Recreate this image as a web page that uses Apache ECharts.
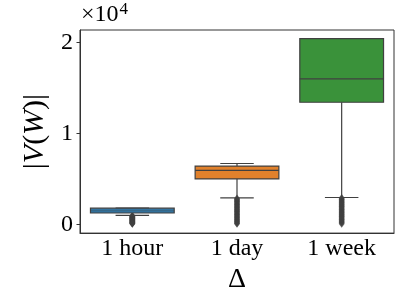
<!DOCTYPE html>
<html><head><meta charset="utf-8">
<script src="https://cdn.jsdelivr.net/npm/echarts@6/dist/echarts.min.js"></script>
<style>html,body{margin:0;padding:0;background:#fff}#c{width:399px;height:299px}</style>
</head><body><div id="c"></div>
<script>
const categories = ['1 hour', '1 day', '1 week'];
const whiskerLow = [1000, 2920, 2960];
const q1 = [1250, 5000, 13440];
const median = [1520, 5950, 16010];
const q3 = [1780, 6420, 20430];
const whiskerHigh = [1780, 6700, 20430];
const boxColors = ['#3274a1', '#e1812c', '#3a923a'];
const yTicks = [0, 10000, 20000];
const outliersHour = [950, 900, 860, 820, 780, 740, 700, 660, 620, 580, 540, 500, 460, 420, 380, 340, 300, 260, 220, 180, 140, 100, 60];
const outliersDay = [2850, 2750, 2650, 2550, 2450, 2350, 2250, 2150, 2050, 1950, 1850, 1750, 1650, 1550, 1450, 1350, 1250, 1150, 1050, 950, 850, 750, 650, 550, 450, 350, 250, 150, 60];
const outliersWeek = [2900, 2800, 2700, 2600, 2500, 2400, 2300, 2200, 2100, 2000, 1900, 1800, 1700, 1600, 1500, 1400, 1300, 1200, 1100, 1000, 900, 800, 700, 600, 500, 400, 300, 200, 60];

const FONT = 'Liberation Serif';
const LINE = '#404040';
const boxData = categories.map((c, i) => [i, whiskerLow[i], q1[i], median[i], q3[i], whiskerHigh[i]]);
const outlierData = [];
[outliersHour, outliersDay, outliersWeek].forEach((arr, i) => arr.forEach(v => outlierData.push([i, v])));

const chart = echarts.init(document.getElementById('c'), null, {renderer: 'canvas'});
chart.setOption({
  animation: false,
  grid: {left: 80, right: 5, top: 30, bottom: 60, show: true, borderColor: '#333', borderWidth: 1},
  xAxis: {
    type: 'category', data: categories, boundaryGap: true,
    name: 'Δ', nameLocation: 'middle', nameGap: 32,
    nameTextStyle: {fontFamily: FONT, fontSize: 28, color: '#000', verticalAlign: 'top'},
    axisLine: {onZero: false, lineStyle: {color: '#333', width: 1}},
    axisTick: {alignWithLabel: true, length: 3.5, lineStyle: {color: '#333'}},
    axisLabel: {fontFamily: FONT, fontSize: 24, color: '#000', margin: 4}
  },
  yAxis: {
    type: 'value', min: -960, max: 21390,
    name: '|{i|V}({i|W})|', nameLocation: 'middle', nameGap: 20, nameRotate: 90,
    nameTextStyle: {fontFamily: FONT, fontSize: 30, color: '#000',
      rich: {i: {fontFamily: FONT, fontSize: 30, fontStyle: 'italic', color: '#000'}}},
    splitLine: {show: false},
    axisLine: {show: true, lineStyle: {color: '#333', width: 1}},
    axisTick: {show: true, length: 3.5, customValues: yTicks, lineStyle: {color: '#333'}},
    axisLabel: {fontFamily: FONT, fontSize: 24, color: '#000', margin: 7, customValues: yTicks,
      formatter: v => String(Math.round(v / 10000))}
  },
  graphic: [{
    type: 'text', left: 81, top: 1,
    style: {text: '×10{s|4}', fontFamily: FONT, fontSize: 24, fill: '#000',
      rich: {s: {fontFamily: FONT, fontSize: 17, verticalAlign: 'top', padding: [0, 0, 10, 1]}}}
  }],
  series: [{
    type: 'scatter', data: outlierData, symbol: 'diamond', symbolSize: [6, 8],
    itemStyle: {color: LINE}, z: 1
  }, {
    type: 'custom', z: 2,
    data: boxData,
    encode: {x: 0, y: [1, 2, 3, 4, 5]},
    renderItem: function (params, api) {
      const i = api.value(0);
      const band = api.size([1, 0])[0];
      const bw = band * 0.8, cw = band * 0.32;
      const pLo = api.coord([i, api.value(1)]);
      const pQ1 = api.coord([i, api.value(2)]);
      const pMd = api.coord([i, api.value(3)]);
      const pQ3 = api.coord([i, api.value(4)]);
      const pHi = api.coord([i, api.value(5)]);
      const x = pQ1[0];
      const ls = {stroke: LINE, lineWidth: 1.2};
      return {type: 'group', children: [
        {type: 'line', shape: {x1: x, y1: pLo[1], x2: x, y2: pQ1[1]}, style: ls},
        {type: 'line', shape: {x1: x, y1: pQ3[1], x2: x, y2: pHi[1]}, style: ls},
        {type: 'line', shape: {x1: x - cw / 2, y1: pLo[1], x2: x + cw / 2, y2: pLo[1]}, style: ls},
        {type: 'line', shape: {x1: x - cw / 2, y1: pHi[1], x2: x + cw / 2, y2: pHi[1]}, style: ls},
        {type: 'rect', shape: {x: x - bw / 2, y: pQ3[1], width: bw, height: pQ1[1] - pQ3[1]},
          style: {fill: boxColors[params.dataIndex], stroke: LINE, lineWidth: 1.2}},
        {type: 'line', shape: {x1: x - bw / 2, y1: pMd[1], x2: x + bw / 2, y2: pMd[1]}, style: {stroke: LINE, lineWidth: 1.2, opacity: params.dataIndex === 0 ? 0.25 : 1}}
      ]};
    }
  }]
});
</script></body></html>
